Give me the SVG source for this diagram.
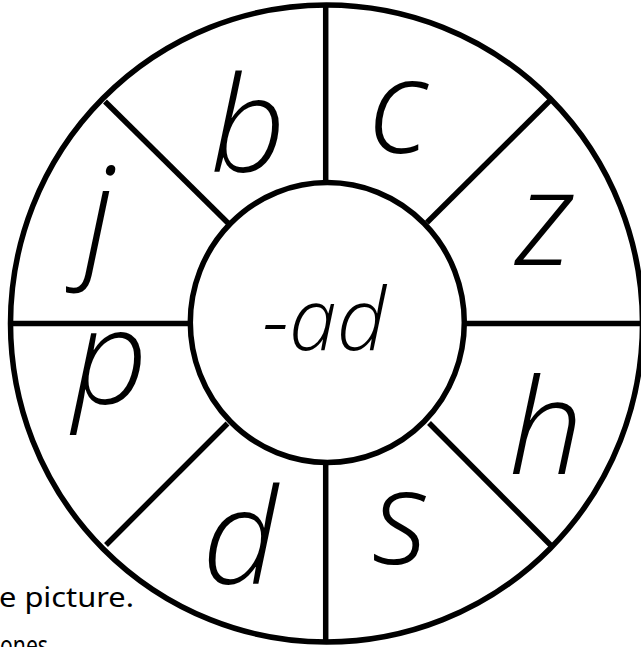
<svg xmlns="http://www.w3.org/2000/svg" width="641" height="647" viewBox="0 0 641 647">
<style>
.ring{fill:none;stroke:#000;stroke-width:5.5}
.div{stroke:#000;stroke-width:5.5;stroke-linecap:butt}
.ltr{font-family:"Open Sans","Noto Sans",sans-serif;font-style:italic;font-weight:350;font-size:132px;fill:#000;text-anchor:middle}
.mid{font-size:86px}
.note{font-family:"Noto Sans","DejaVu Sans",sans-serif;font-size:27px;fill:#000}
</style>
<rect width="641" height="647" fill="#fff"/>
<g id="wheel">
<ellipse class="ring" cx="326.5" cy="323.5" rx="316" ry="318.5"/>
</g>
<g id="connectors">
<line class="div" x1="325.7" y1="5" x2="325.7" y2="183"/>
<line class="div" x1="325.7" y1="462" x2="325.7" y2="642"/>
<line class="div" x1="11" y1="323.5" x2="191" y2="323.5"/>
<line class="div" x1="463" y1="323.5" x2="641" y2="323.5"/>
<line class="div" x1="105" y1="101.5" x2="229" y2="224"/>
<line class="div" x1="551.5" y1="99" x2="427" y2="222.5"/>
<line class="div" x1="106" y1="545" x2="227.5" y2="423.5"/>
<line class="div" x1="429" y1="423" x2="553" y2="547.5"/>
</g>
<g id="center">
<ellipse class="ring" cx="327.3" cy="322.5" rx="137" ry="140" fill="#fff"/>
<text class="ltr mid" x="324" y="350">-ad</text>
</g>
<g id="node-b"><text class="ltr" x="248" y="172">b</text></g>
<g id="node-c"><text class="ltr" x="398" y="153">c</text></g>
<g id="node-z"><text class="ltr" x="545" y="265">z</text></g>
<g id="node-h"><text class="ltr" x="546" y="474">h</text></g>
<g id="node-s"><text class="ltr" x="401" y="564">s</text></g>
<g id="node-d"><text class="ltr" x="240" y="584">d</text></g>
<g id="node-p"><text class="ltr" x="110" y="404">p</text></g>
<g id="node-j"><text class="ltr" x="99" y="262">j</text></g>
<g id="notes">
<text class="note" x="-1" y="607" textLength="135" lengthAdjust="spacingAndGlyphs">e picture.</text>
<text class="note" x="0" y="655" textLength="48" lengthAdjust="spacingAndGlyphs">ones</text>
</g>
</svg>
